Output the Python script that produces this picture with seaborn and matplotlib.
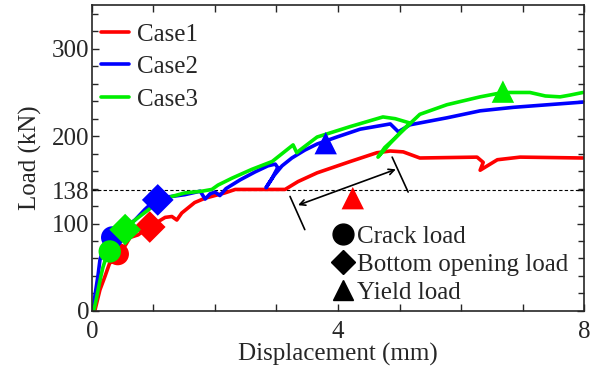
import pandas as pd
import numpy as np
import seaborn as sns
import matplotlib.pyplot as plt
from matplotlib.lines import Line2D

# load-displacement curves
case1_x = [0.02, 0.05, 0.13, 0.21, 0.29, 0.42, 0.50, 0.62, 0.75, 0.91, 1.19, 1.30, 1.38, 1.46, 1.67,
           1.84, 2.16, 2.33, 3.14, 3.35, 3.66, 4.20, 4.63, 4.85, 5.06, 5.33, 6.26, 6.36, 6.31, 6.59,
           6.96, 7.98]
case1_y = [0, 1, 24, 39, 55, 58, 70, 84, 87, 95, 107, 108, 104, 112, 124,
           129, 135, 139, 139, 148, 158, 171, 181, 183, 182, 175, 176, 170, 161, 173,
           176, 175]

case2_x = [0.02, 0.05, 0.10, 0.13, 0.20, 0.29, 0.49, 0.70, 0.86, 1.06, 1.30, 1.51, 1.76, 1.84, 1.92,
           2.00, 2.08, 2.18, 2.41, 2.65, 2.86, 2.98, 3.02, 2.93, 2.83, 2.96, 3.09, 3.25, 3.46, 3.66,
           3.98, 4.36, 4.85, 4.98, 5.17, 5.77, 6.31, 6.85, 7.98]
case2_y = [0, 18, 41, 58, 76, 84, 93, 104, 116, 129, 131, 133, 137, 128, 134,
           136, 132, 140, 150, 159, 166, 168, 164, 152, 141, 155, 166, 175, 184, 191,
           199, 208, 214, 205, 213, 221, 229, 233, 239]

case3_x = [0.03, 0.07, 0.10, 0.15, 0.18, 0.23, 0.29, 0.42, 0.57, 0.70, 0.98, 1.30, 1.51, 1.79, 1.95,
           2.05, 2.28, 2.60, 2.93, 3.27, 3.33, 3.38, 3.66, 4.20, 4.73, 4.93, 5.17, 5.01, 4.85, 4.65,
           4.76, 4.93, 5.12, 5.33, 5.77, 6.31, 6.68, 7.12, 7.37, 7.61, 7.77, 7.98]
case3_y = [0, 13, 24, 41, 50, 61, 68, 87, 95, 104, 119, 131, 135, 137, 139,
           144, 152, 162, 171, 190, 181, 184, 199, 211, 222, 220, 215, 204, 192, 176,
           187, 198, 211, 225, 236, 245, 250, 250, 246, 245, 247, 250]

cases = ['Case1', 'Case2', 'Case3']
colors = ['#ff0000', '#0000ff', '#00ee00']

# characteristic loads: crack, bottom opening, yield
crack_x = [0.42, 0.33, 0.29]
crack_y = [65, 84, 68]
opening_x = [0.94, 1.07, 0.54]
opening_y = [96, 127, 93]
yield_x = [4.24, 3.80, 6.68]
yield_y = [129, 192, 251]

curves = pd.concat([
    pd.DataFrame({'disp': case1_x, 'load': case1_y, 'case': 'Case1'}),
    pd.DataFrame({'disp': case2_x, 'load': case2_y, 'case': 'Case2'}),
    pd.DataFrame({'disp': case3_x, 'load': case3_y, 'case': 'Case3'}),
])

points = pd.DataFrame({
    'disp': crack_x + opening_x + yield_x,
    'load': crack_y + opening_y + yield_y,
    'case': cases * 3,
    'kind': ['Crack load'] * 3 + ['Bottom opening load'] * 3 + ['Yield load'] * 3,
})

sns.set_style('ticks')
plt.rcParams['font.family'] = ['Liberation Serif', 'DejaVu Serif']

fig, ax = plt.subplots(figsize=(5.93, 3.67), dpi=100)
fig.subplots_adjust(left=0.155, right=0.985, bottom=0.153, top=0.986)

sns.lineplot(data=curves, x='disp', y='load', hue='case', palette=colors, sort=False,
             estimator=None, units='case', lw=2.6, ax=ax)
ax.axhline(138, color='black', lw=0.8, ls=(0, (3, 2)), zorder=1)

sns.scatterplot(data=points, x='disp', y='load', hue='case', palette=colors, style='kind',
                markers={'Crack load': 'o', 'Bottom opening load': 'D', 'Yield load': '^'},
                s=260, linewidth=0, legend=False, ax=ax, zorder=5)

# range arrow with end bars
ax.annotate('', xy=(3.35, 121), xytext=(4.94, 162),
            arrowprops=dict(arrowstyle='<->', color='black', lw=1.2, shrinkA=0, shrinkB=0))
ax.plot([3.22, 3.46], [131, 93], color='black', lw=1.2)
ax.plot([4.88, 5.14], [176, 136], color='black', lw=1.2)

ax.set_xlim(0, 8)
ax.set_ylim(0, 350)
ax.set_xticks(np.arange(0, 9, 1))
ax.set_xticklabels(['0', '', '', '', '4', '', '', '', '8'])
ax.set_yticks([0, 100, 138, 200, 300])
ax.set_yticks(np.arange(0, 341, 20), minor=True)
ax.tick_params(which='both', direction='in', top=True, right=True, labelsize=18,
               length=5, width=1, pad=2)
ax.tick_params(axis='x', pad=7)
ax.tick_params(which='minor', length=4)
for s in ax.spines.values():
    s.set_linewidth(1.2)
    s.set_visible(True)

ax.set_xlabel('Displacement (mm)', fontsize=18, labelpad=0)
ax.set_ylabel('Load (kN)', fontsize=18, labelpad=7)

leg1 = ax.legend(loc='upper left', bbox_to_anchor=(-0.017, 0.998), frameon=False, fontsize=18,
                 handlelength=1.1, handletextpad=0.35, labelspacing=0.4, borderaxespad=0.3)
for h in leg1.get_lines():
    h.set_linewidth(2.6)
ax.add_artist(leg1)

marker_handles = [Line2D([], [], ls='none', marker=m, color='black', markersize=ms)
                  for m, ms in zip(['o', 'D', '^'], [15, 12, 15])]
ax.legend(marker_handles, ['Crack load', 'Bottom opening load', 'Yield load'],
          loc='lower left', bbox_to_anchor=(0.46, -0.026), frameon=False, fontsize=18,
          handlelength=0.8, handletextpad=0.15, labelspacing=0.22, borderaxespad=0.2)

fig.savefig('out.png', dpi=100)
